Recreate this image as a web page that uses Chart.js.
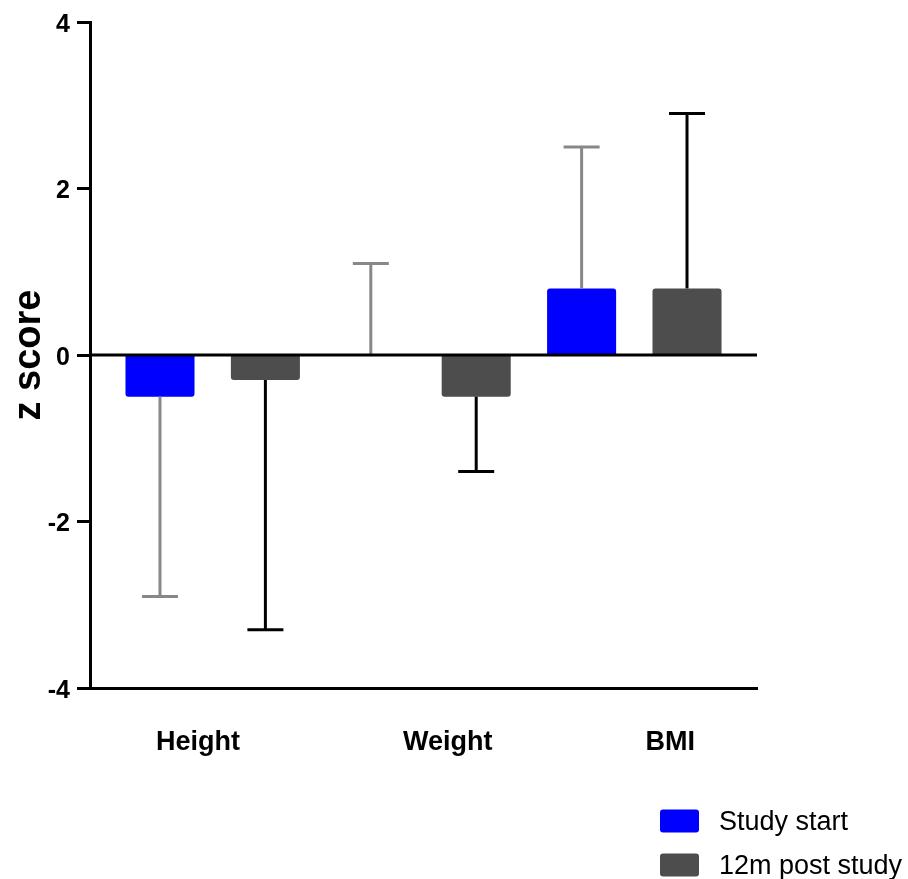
<!DOCTYPE html>
<html>
<head>
<meta charset="utf-8">
<script src="https://cdn.jsdelivr.net/npm/chart.js@4/dist/chart.umd.min.js"></script>
<style>
  html, body { margin: 0; padding: 0; background: #ffffff; }
  #wrap { position: relative; width: 908px; height: 879px; }
</style>
</head>
<body>
<div id="wrap"><canvas id="chart"></canvas></div>
<script>
// ---- data ----
const categories = ['Height', 'Weight', 'BMI'];
const seriesNames = ['Study start', '12m post study'];
const studyStart = [-0.5, 0.0, 0.8];
const postStudy = [-0.3, -0.5, 0.8];
// error bar end values (bar value ± SD, drawn away from zero)
const studyStartErrEnd = [-2.9, 1.1, 2.5];
const postStudyErrEnd = [-3.3, -1.4, 2.9];
const yTicks = [-4, -2, 0, 2, 4];

// ---- styles ----
const FONT = "'Liberation Sans', Arial, Helvetica, sans-serif";
const barColors = ['#0000FF', '#4D4D4D'];
const errColors = ['#888888', '#000000'];

// bars are laid out in 6 equal slots: two per category
const ds0 = studyStart.map((v, i) => ({ x: 2 * i, y: v }));
const ds1 = postStudy.map((v, i) => ({ x: 2 * i + 1, y: v }));
const errEnds = [studyStartErrEnd, postStudyErrEnd];
// category label positions in slot units (as placed in the reference)
const labelSlots = [0.36, 2.73, 4.84];

const overlayPlugin = {
  id: 'overlay',
  afterDatasetsDraw(chart) {
    const ctx = chart.ctx;
    const ys = chart.scales.y;
    const area = chart.chartArea;
    ctx.save();
    // error bars
    chart.data.datasets.forEach((ds, di) => {
      const meta = chart.getDatasetMeta(di);
      meta.data.forEach((el, i) => {
        const x = el.x;
        const y0 = el.y;
        const y1 = ys.getPixelForValue(errEnds[di][i]);
        ctx.strokeStyle = errColors[di];
        ctx.lineWidth = 3;
        ctx.lineCap = 'butt';
        ctx.beginPath();
        ctx.moveTo(x, y0);
        ctx.lineTo(x, y1);
        ctx.stroke();
        ctx.beginPath();
        ctx.moveTo(x - 18, y1);
        ctx.lineTo(x + 18, y1);
        ctx.stroke();
      });
    });
    // zero line over the bars
    const yz = ys.getPixelForValue(0);
    ctx.strokeStyle = '#000000';
    ctx.lineWidth = 3;
    ctx.beginPath();
    ctx.moveTo(area.left, yz);
    ctx.lineTo(area.right, yz);
    ctx.stroke();
    ctx.restore();
  },
  afterDraw(chart) {
    // legend (stacked vertically, bottom right)
    const ctx = chart.ctx;
    const area = chart.chartArea;
    ctx.save();
    const bx = area.right - 97;
    const rows = [chart.height - 57, chart.height - 13];
    chart.data.datasets.forEach((ds, di) => {
      const cy = rows[di];
      ctx.fillStyle = ds.backgroundColor;
      ctx.beginPath();
      if (ctx.roundRect) ctx.roundRect(bx, cy - 12.5, 39, 23, 3); else ctx.rect(bx, cy - 12.5, 39, 23);
      ctx.fill();
      ctx.fillStyle = '#000000';
      ctx.font = '27px ' + FONT;
      ctx.textAlign = 'left';
      ctx.textBaseline = 'middle';
      ctx.fillText(ds.label, bx + 59, cy + 1);
    });
    ctx.restore();
  }
};

new Chart(document.getElementById('chart'), {
  type: 'bar',
  data: {
    datasets: [
      { label: seriesNames[0], data: ds0, backgroundColor: barColors[0], borderRadius: 3, grouped: false,
        barPercentage: 0.655, categoryPercentage: 1.0 },
      { label: seriesNames[1], data: ds1, backgroundColor: barColors[1], borderRadius: 3, grouped: false,
        barPercentage: 0.655, categoryPercentage: 1.0 }
    ]
  },
  options: {
    responsive: true,
    maintainAspectRatio: false,
    animation: false,
    layout: { padding: { top: 22, right: 151, bottom: 100, left: 0 } },
    plugins: {
      legend: { display: false },
      tooltip: { enabled: false }
    },
    scales: {
      x: {
        type: 'linear',
        min: -0.664,
        max: 5.664,
        offset: false,
        grid: { display: true, drawOnChartArea: false, drawTicks: false },
        border: { display: true, color: '#000000', width: 3 },
        afterBuildTicks(scale) {
          scale.ticks = labelSlots.map(v => ({ value: v }));
        },
        afterFit(scale) { scale.height = 91; },
        ticks: {
          autoSkip: false,
          maxRotation: 0,
          padding: 38,
          color: '#000000',
          font: { family: FONT, size: 27, weight: 'bold' },
          callback: (value, index) => categories[index]
        }
      },
      y: {
        type: 'linear',
        min: -4,
        max: 4,
        afterBuildTicks(scale) {
          scale.ticks = yTicks.map(v => ({ value: v }));
        },
        afterFit(scale) { scale.width = 90; },
        grid: { drawOnChartArea: false, drawTicks: true, tickLength: 13, tickWidth: 3, tickColor: '#000000' },
        border: { display: true, color: '#000000', width: 3 },
        ticks: {
          padding: 7,
          labelOffset: 3,
          color: '#000000',
          font: { family: FONT, size: 25, weight: 'bold' }
        },
        title: {
          display: true,
          text: 'z score',
          color: '#000000',
          padding: { top: 7, bottom: 0 },
          font: { family: FONT, size: 38, weight: 'bold' }
        }
      }
    }
  },
  plugins: [overlayPlugin]
});
</script>
</body>
</html>
